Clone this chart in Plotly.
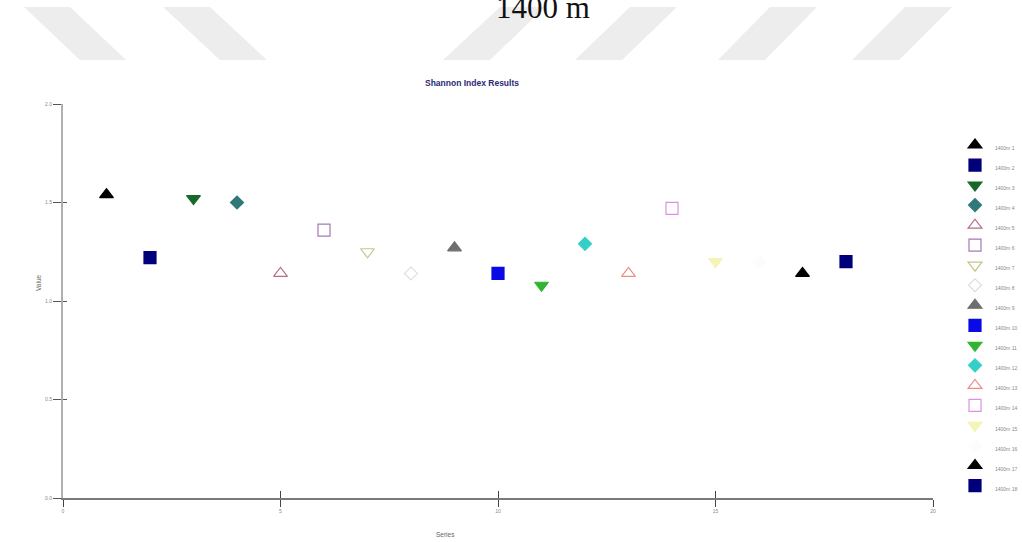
import plotly.graph_objects as go

# Shannon index per sampling point, 1400 m transect
series_ids = list(range(1, 19))
series_names = [f"1400m {i}" for i in series_ids]
index_values = [1.54, 1.22, 1.52, 1.50, 1.14, 1.36, 1.25, 1.14, 1.27,
                1.14, 1.08, 1.29, 1.14, 1.47, 1.20, 1.20, 1.14, 1.20]

# marker style cycle (symbol, colour, size)
symbols = ["triangle-up", "square", "triangle-down", "diamond",
           "triangle-up-open", "square-open", "triangle-down-open", "diamond-open",
           "triangle-up", "square", "triangle-down", "diamond",
           "triangle-up-open", "square-open", "triangle-down", "diamond",
           "triangle-up", "square"]
colors = ["#000000", "#00007a", "#17692a", "#2f7a78",
          "#b27088", "#a678b8", "#c6c48a", "#e6d8e6",
          "#6e6e6e", "#0a0ae6", "#32b432", "#34d0c8",
          "#f08a84", "#de90e6", "#f4f4b8", "#fcfcfc",
          "#000000", "#00007a"]
sizes = [12, 12, 12, 10, 12, 12, 12, 10, 12, 12, 12, 10, 12, 12, 12, 10, 12, 12]

y_ticks = [0.0, 0.5, 1.0, 1.5, 2.0]
y_tick_text = ["0.0", "0.5", "1.0", "1.5", "2.0"]
x_ticks = [0, 5, 10, 15, 20]

W, H = 1022, 542
L, R, T, B = 63, 89, 104, 44


def px(x):
    return (x - L) / (W - L - R)


def py(y):
    return (H - B - y) / (H - T - B)


fig = go.Figure()
for sid, name, val, sym, col, sz in zip(series_ids, series_names, index_values,
                                        symbols, colors, sizes):
    fig.add_trace(go.Scatter(
        x=[sid], y=[val], mode="markers",
        name=f'<span style="font-size:5px">{name}</span>',
        marker=dict(symbol=sym, size=sz, color=col,
                    line=dict(color=col, width=1.2)),
    ))

# light diagonal bands across the page header
bands = [
    ((24, 70), (80, 126)),
    ((163, 210), (220, 267)),
    ((500, 545), (443, 490)),
    ((630, 677), (575, 622)),
    ((770, 817), (718, 765)),
    ((905, 952), (852, 899)),
]
shapes = []
for (t0, t1), (b0, b1) in bands:
    path = (f"M {px(t0)} {py(7)} L {px(t1)} {py(7)} "
            f"L {px(b1)} {py(60)} L {px(b0)} {py(60)} Z")
    shapes.append(dict(type="path", xref="paper", yref="paper", path=path,
                       fillcolor="#ededed", line=dict(width=0), layer="below"))

annotations = [
    dict(text="1400 m", xref="paper", yref="paper", x=px(543), y=py(7),
         xanchor="center", yanchor="middle", showarrow=False,
         font=dict(family="Liberation Serif", size=31, color="#111111")),
    dict(text="<b>Shannon Index Results</b>", xref="paper", yref="paper",
         x=px(472), y=py(83), xanchor="center", yanchor="middle", showarrow=False,
         font=dict(family="Liberation Sans", size=8.5, color="#2a2a72")),
    dict(text="Series", xref="paper", yref="paper", x=px(445), y=py(534),
         xanchor="center", yanchor="middle", showarrow=False,
         font=dict(family="Liberation Sans", size=6.5, color="#666666")),
    dict(text="Value", xref="paper", yref="paper", x=px(38), y=py(283),
         xanchor="center", yanchor="middle", showarrow=False, textangle=-90,
         font=dict(family="Liberation Sans", size=6.5, color="#666666")),
]

fig.update_layout(
    width=W, height=H,
    margin=dict(l=L, r=R, t=T, b=B, autoexpand=False),
    paper_bgcolor="white", plot_bgcolor="white",
    showlegend=True,
    legend=dict(x=px(955), y=py(130), xanchor="left", yanchor="top",
                font=dict(family="Liberation Sans", size=13.1, color="#888888"),
                itemwidth=30, tracegroupgap=0, bgcolor="rgba(0,0,0,0)"),
    shapes=shapes,
    annotations=annotations,
    xaxis=dict(range=[0, 20], tickvals=x_ticks, ticktext=[str(v) for v in x_ticks],
               showgrid=False, zeroline=False, showline=True, linecolor="#7a7a7a",
               linewidth=1.5, ticks="outside", ticklen=7, tickcolor="#444444",
               tickfont=dict(family="Liberation Sans", size=5, color="#888888")),
    yaxis=dict(range=[0, 2.0], tickvals=y_ticks, ticktext=y_tick_text,
               showgrid=False, zeroline=False, showline=True, linecolor="#b0b0b0",
               linewidth=2, ticks="outside", ticklen=8, tickcolor="#555555",
               tickfont=dict(family="Liberation Sans", size=5, color="#888888")),
    xaxis2=dict(range=[0, 20], overlaying="x", tickvals=x_ticks, showticklabels=False,
                showgrid=False, zeroline=False, ticks="inside", ticklen=7,
                tickcolor="#444444", side="bottom"),
    yaxis2=dict(range=[0, 2.0], overlaying="y", tickvals=y_ticks, showticklabels=False,
                showgrid=False, zeroline=False, ticks="inside", ticklen=4,
                tickcolor="#555555", side="left"),
)

# invisible helper trace so the inner tick marks are drawn
fig.add_trace(go.Scatter(x=[None], y=[None], xaxis="x2", yaxis="y2",
                         showlegend=False, hoverinfo="skip"))

fig.write_html("out.html")
